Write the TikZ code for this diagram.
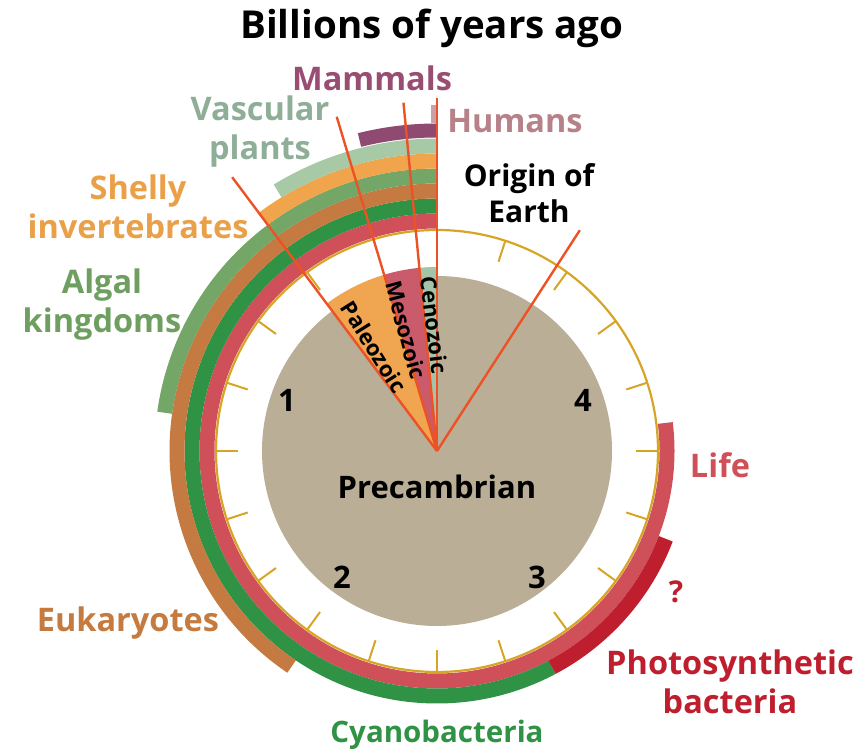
\documentclass[tikz,border=0pt]{standalone}
\usepackage{fontspec}
\setmainfont{Open Sans}
\usetikzlibrary{calc}
\definecolor{beige}{HTML}{BBAE96}
\definecolor{gold}{HTML}{D6A525}
\definecolor{eraline}{HTML}{EC5225}
\definecolor{paleo}{HTML}{F0A550}
\definecolor{meso}{HTML}{C95B6A}
\definecolor{ceno}{HTML}{A3C4A6}
\definecolor{life}{HTML}{D0505A}
\definecolor{cyano}{HTML}{2F9245}
\definecolor{photo}{HTML}{BE1E2D}
\definecolor{euk}{HTML}{C47A40}
\definecolor{algal}{HTML}{74A668}
\definecolor{shelly}{HTML}{F0A44C}
\definecolor{vasc}{HTML}{A7C9A6}
\definecolor{mamm}{HTML}{8E4A70}
\definecolor{hum}{HTML}{C9A1AA}
\definecolor{mammtxt}{HTML}{9A4D73}
\definecolor{vasctxt}{HTML}{8FAE97}
\definecolor{humtxt}{HTML}{B78189}
\definecolor{shellytxt}{HTML}{E9A049}
\definecolor{algaltxt}{HTML}{6E9F60}
\definecolor{eukt}{HTML}{C57A3F}
\begin{document}
\begin{tikzpicture}[x=1pt,y=1pt,
  band/.style={line width=15pt},
  eraline/.style={draw=eraline, line width=2.4pt},
  ticmark/.style={draw=gold, line width=2pt},
  lbl/.style={font=\bfseries\fontsize{32.5}{39}\selectfont, align=center, inner sep=0pt},
  num/.style={font=\bfseries\fontsize{31}{36}\selectfont, inner sep=0pt},
  eratxt/.style={font=\bfseries\fontsize{22}{24}\selectfont, inner sep=0pt}]
\useasboundingbox (0,0) rectangle (861,754);
\coordinate (C) at (437,303);
% beige disc
\fill[beige] (C) circle[radius=175];
% era wedges
\fill[paleo] (C) -- ($(C)+(106.7:184)$) arc[start angle=106.7,end angle=126.8,radius=184] -- cycle;
\fill[meso] (C) -- ($(C)+(95.5:184)$) arc[start angle=95.5,end angle=106.7,radius=184] -- cycle;
\fill[ceno] (C) -- ($(C)+(90:184)$) arc[start angle=90,end angle=95.5,radius=184] -- cycle;
% ring and ticks
\draw[gold, line width=2.2pt] (C) circle[radius=221];
\foreach \a in {36,54,...,342}
  \draw[ticmark] ($(C)+(90+\a:221)$) -- ($(C)+(90+\a:199)$);
% bands
\draw[band, life]   ($(C)+(90:230)$) arc[start angle=90,end angle=367,radius=230];
\draw[band, cyano]  ($(C)+(90:245)$) arc[start angle=90,end angle=298,radius=245];
\draw[band, photo]  ($(C)+(298:245)$) arc[start angle=298,end angle=339,radius=245];
\draw[band, euk]    ($(C)+(90:260)$) arc[start angle=90,end angle=236,radius=260];
\draw[band, algal]  ($(C)+(90:275)$) arc[start angle=90,end angle=172,radius=275];
\draw[band, shelly] ($(C)+(90:290)$) arc[start angle=90,end angle=127,radius=290];
\draw[band, vasc]   ($(C)+(90:305)$) arc[start angle=90,end angle=121.5,radius=305];
\draw[mamm, line width=14pt] ($(C)+(90:320.5)$) arc[start angle=90,end angle=104,radius=320.5];
\draw[hum, line width=18pt] ($(C)+(90:337)$) arc[start angle=90,end angle=91,radius=337];
% era lines
\coordinate (eOrigin) at ($(C)+(57.1:263)$);
\coordinate (eNow) at ($(C)+(90:353)$);
\coordinate (eCeno) at ($(C)+(95.5:350)$);
\coordinate (eMeso) at ($(C)+(106.7:349)$);
\coordinate (ePaleo) at ($(C)+(126.8:342)$);
\draw[eraline] (C) -- (eOrigin);
\draw[eraline] (C) -- (eNow);
\draw[eraline] (C) -- (eCeno);
\draw[eraline] (C) -- (eMeso);
\draw[eraline] (C) -- (ePaleo);
% era texts
\node[eratxt, rotate=-58] (tPaleo) at (374,407) {Paleozoic};
\node[eratxt, rotate=-75] (tMeso) at (406,424) {Mesozoic};
\node[eratxt, rotate=-83] (tCeno) at (434,429) {Cenozoic};
% numbers
\node[num] (n1) at (287,354) {1};
\node[num] (n2) at (342,177) {2};
\node[num] (n3) at (537,177) {3};
\node[num] (n4) at (583,354) {4};
% labels
\node[lbl, font=\bfseries\fontsize{38.5}{42}\selectfont] (title) at (432,726) {Billions of years ago};
\node[lbl, text=mammtxt] (lMamm) at (372,676) {Mammals};
\node[lbl, text=vasctxt] (lVasc) at (260,622) {Vascular\\plants};
\node[lbl, text=humtxt] (lHum) at (515,633) {Humans};
\node[lbl, font=\bfseries\fontsize{30}{36}\selectfont] (lOrig) at (529,561) {Origin of\\Earth};
\node[lbl, text=shellytxt] (lShell) at (138,547) {Shelly\\invertebrates};
\node[lbl, text=algaltxt] (lAlgal) at (102,449) {Algal\\kingdoms};
\node[lbl, font=\bfseries\fontsize{31}{36}\selectfont] (lPre) at (437,267) {Precambrian};
\node[lbl, text=life] (lLife) at (720,289) {Life};
\node[lbl, text=photo, font=\bfseries\fontsize{30}{32}\selectfont] (lQ) at (676,162) {?};
\node[lbl, text=eukt] (lEuk) at (128,131) {Eukaryotes};
\node[lbl, text=photo] (lPhoto) at (730,72) {Photosynthetic\\bacteria};
\node[lbl, text=cyano, font=\bfseries\fontsize{29.5}{36}\selectfont] (lCyano) at (437,19) {Cyanobacteria};
\end{tikzpicture}
\end{document}
